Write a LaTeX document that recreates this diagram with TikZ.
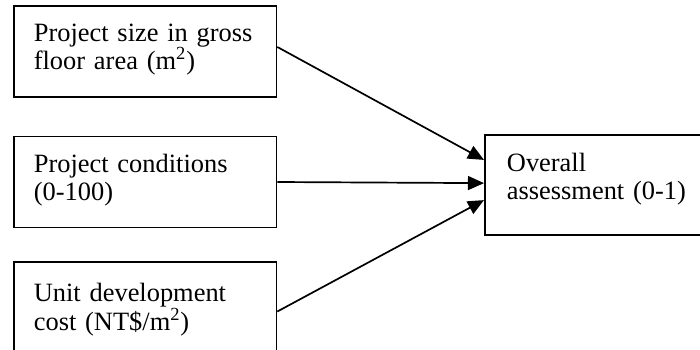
\documentclass[tikz,border=0pt]{standalone}
\usepackage{fontspec}
\setmainfont{Liberation Serif}
\usetikzlibrary{arrows.meta}

\tikzset{
	factor/.style = {draw, line width = 0.9pt, rectangle, anchor = west, align = left, text width = 118pt, inner xsep = 10.6pt, minimum height = 48.2pt, font = \fontsize{14}{15}\selectfont, execute at end node = {\par\vspace*{2pt}}},
	result/.style = {factor, text width = 110pt, inner xsep = 11.7pt, minimum height = 53pt, execute at end node = {\par\vspace*{4pt}}},
	link/.style = {line width = 0.9pt, -{Triangle[length = 8.5pt, width = 7.4pt]}}
}

\begin{document}
\begin{tikzpicture}[x = 0.53pt, y = -0.53pt]
	 \useasboundingbox (0, 0) rectangle (700, 349);
	 \clip (0, 0) rectangle (700, 349);
	 
	 \node[factor] (size) at (13, 51.5) {Project size in gross\\ floor area (m\textsuperscript{2})};
	 \node[factor] (cond) at (13, 182) {Project conditions\\ (0-100)};
	 \node[factor, minimum height = 52.4pt] (cost) at (13, 311.5) {Unit development\\ cost (NT\$/m\textsuperscript{2})};
	 \node[result] (overall) at (484, 185) {Overall\\ assessment (0-1)};
	 
	 \draw[link] ([yshift = 2.4pt]size.east) -- ([yshift = 13.3pt]overall.west);
	 \draw[link] (cond.east) -- ([yshift = 1pt]overall.west);
	 \draw[link] (cost.east) -- ([yshift = -8pt]overall.west);
\end{tikzpicture}
\end{document}
